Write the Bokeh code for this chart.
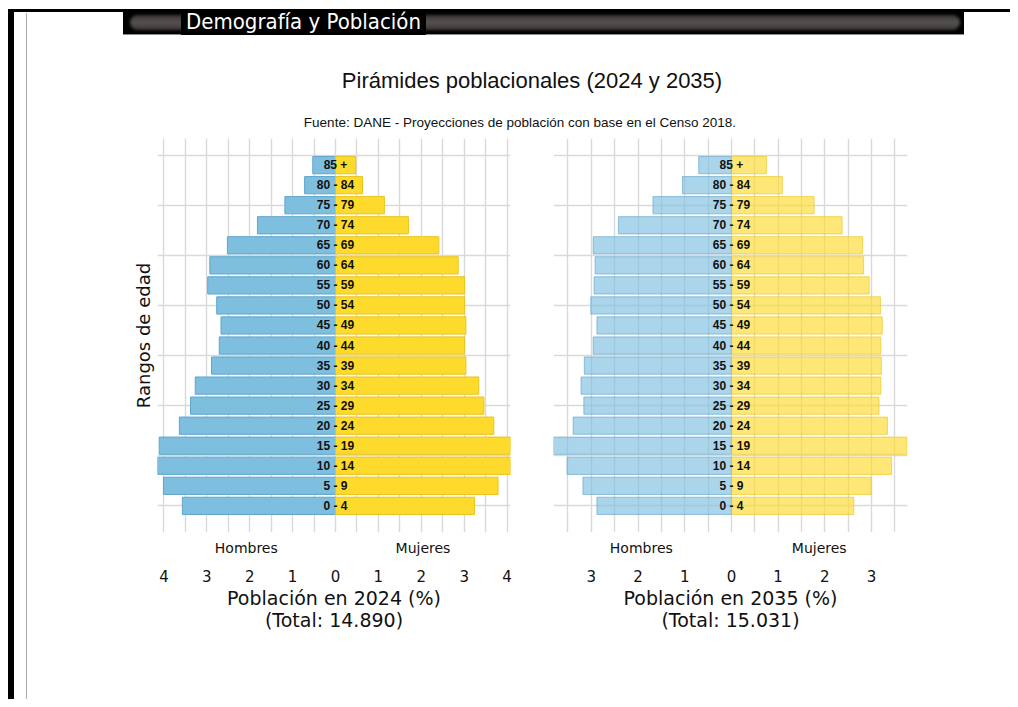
from bokeh.plotting import figure
from bokeh.models import (ColumnDataSource, FixedTicker, LinearAxis, Grid,
                          Range1d, Div)
from bokeh.layouts import row, column
from bokeh.core.properties import value
from bokeh.embed import file_html
from bokeh.resources import INLINE

# ---------------- data (percent of total population) ----------------
age_groups = ["0 - 4", "5 - 9", "10 - 14", "15 - 19", "20 - 24", "25 - 29",
              "30 - 34", "35 - 39", "40 - 44", "45 - 49", "50 - 54", "55 - 59",
              "60 - 64", "65 - 69", "70 - 74", "75 - 79", "80 - 84", "85 +"]
men_2024 = [3.57, 4.01, 4.17, 4.11, 3.64, 3.38, 3.27, 2.89, 2.71, 2.67, 2.77,
            2.98, 2.93, 2.52, 1.82, 1.18, 0.72, 0.53]
women_2024 = [3.24, 3.79, 4.12, 4.12, 3.69, 3.46, 3.34, 3.04, 3.01, 3.04, 3.01,
              3.01, 2.86, 2.41, 1.70, 1.14, 0.63, 0.47]
men_2035 = [2.88, 3.18, 3.52, 3.83, 3.39, 3.16, 3.22, 3.15, 2.96, 2.88, 3.01,
            2.94, 2.92, 2.96, 2.42, 1.68, 1.05, 0.70]
women_2035 = [2.62, 2.99, 3.43, 3.76, 3.34, 3.16, 3.20, 3.21, 3.20, 3.23, 3.19,
              2.95, 2.83, 2.81, 2.37, 1.77, 1.09, 0.75]

ticks_2024 = [-4, -3, -2, -1, 0, 1, 2, 3, 4]
ticks_2035 = [-3, -2, -1, 0, 1, 2, 3]
sex_labels = ["Hombres", "Mujeres"]
header_text = "Demografía y Población"
title_text = "Pirámides poblacionales (2024 y 2035)"
subtitle_text = "Fuente: DANE - Proyecciones de población con base en el Censo 2018."
y_title = "Rangos de edad"
x_title_2024 = "Población en 2024 (%)"
x_title_2035 = "Población en 2035 (%)"
total_2024 = "(Total: 14.890)"
total_2035 = "(Total: 15.031)"

BLUE = "#7ebede"
BLUE_EDGE = "#5fa6cc"
YELLOW = "#fdda2c"
YELLOW_EDGE = "#e9c41c"
GRID = "#d9d9d9"
AXIS_FONT = "DejaVu Sans"


def make_panel(men, women, x_start, x_end, ticks, sex_pos, x_title, total,
               alpha, width, mbl, mbr, with_y_title):
    y = list(range(len(age_groups)))
    src = ColumnDataSource(dict(
        y=y, label=age_groups,
        men_left=[-v for v in men], women_right=women,
    ))
    p = figure(width=width, height=520,
               x_range=Range1d(x_start, x_end), y_range=Range1d(-1.33, 18.33),
               x_axis_location=None, y_axis_location=None,
               toolbar_location=None, output_backend="svg",
               min_border_left=mbl, min_border_right=mbr,
               min_border_top=4, min_border_bottom=122,
               outline_line_color=None, background_fill_color="white",
               border_fill_color="white")
    p.grid.visible = False

    lo, hi = min(ticks), max(ticks)
    if lo == -3:
        lo, hi = -3.5, 3.5
    half_steps = [k / 2 for k in range(int(2 * lo), int(2 * hi) + 1)]
    p.add_layout(Grid(dimension=0, ticker=FixedTicker(ticks=half_steps),
                      grid_line_color=GRID, grid_line_width=1.4))
    p.add_layout(Grid(dimension=1,
                      ticker=FixedTicker(ticks=[0, 2.5, 5, 7.5, 10, 12.5, 15, 17.5]),
                      grid_line_color=GRID, grid_line_width=1.4))

    p.hbar(y="y", left="men_left", right=0, height=0.86, source=src,
           fill_color=BLUE, fill_alpha=alpha, line_color=BLUE_EDGE,
           line_alpha=alpha, line_width=1)
    p.hbar(y="y", left=0, right="women_right", height=0.86, source=src,
           fill_color=YELLOW, fill_alpha=alpha, line_color=YELLOW_EDGE,
           line_alpha=alpha, line_width=1)
    p.text(x=0, y="y", text="label", source=src, text_align="center",
           text_baseline="middle", text_font=value("Liberation Sans"),
           text_font_style="bold", text_font_size="12px", text_color="#111111")

    # Hombres / Mujeres axis
    ax1 = LinearAxis(ticker=FixedTicker(ticks=sex_pos),
                     major_label_overrides={sex_pos[0]: sex_labels[0],
                                            sex_pos[1]: sex_labels[1]},
                     axis_line_color=None, major_tick_line_color=None,
                     minor_tick_line_color=None, major_tick_out=0,
                     major_label_standoff=7,
                     major_label_text_font=AXIS_FONT,
                     major_label_text_font_size="14px",
                     major_label_text_color="#111111")
    p.add_layout(ax1, "below")
    # numeric axis with two-line title
    ax2 = LinearAxis(ticker=FixedTicker(ticks=ticks),
                     major_label_overrides={t: str(abs(t)) for t in ticks},
                     axis_line_color=None, major_tick_line_color=None,
                     minor_tick_line_color=None, major_tick_out=0,
                     major_label_standoff=11,
                     major_label_text_font=AXIS_FONT,
                     major_label_text_font_size="15px",
                     major_label_text_color="#111111",
                     axis_label=x_title + "\n" + total, axis_label_standoff=2,
                     axis_label_text_font=AXIS_FONT,
                     axis_label_text_font_size="19px",
                     axis_label_text_font_style="normal",
                     axis_label_text_line_height=1.0,
                     axis_label_text_color="#111111")
    p.add_layout(ax2, "below")

    if with_y_title:
        yax = LinearAxis(ticker=FixedTicker(ticks=[]), axis_label=y_title,
                         axis_line_color=None, major_tick_line_color=None,
                         minor_tick_line_color=None, major_tick_out=0,
                         major_label_text_font_size="1px",
                         axis_label_standoff=4,
                         axis_label_text_font=AXIS_FONT,
                         axis_label_text_font_size="18px",
                         axis_label_text_font_style="normal",
                         axis_label_text_color="#111111")
        p.add_layout(yax, "left")
    return p


left = make_panel(men_2024, women_2024, -4.15, 4.08, ticks_2024, [-2.08, 2.04],
                  x_title_2024, total_2024, 1.0, 503, 129, 21, True)
right = make_panel(men_2035, women_2035, -3.81, 3.77, ticks_2035, [-1.93, 1.88],
                   x_title_2035, total_2035, 0.65, 479, 22, 103, False)

border_html = (
    '<div style="position:relative;width:28px;height:699px;">'
    '<div style="position:absolute;left:8px;top:9px;width:20px;height:3px;background:#000;"></div>'
    '<div style="position:absolute;left:8px;top:10px;width:6px;height:689px;background:#000;"></div>'
    '<div style="position:absolute;left:26px;top:13px;width:1px;height:686px;background:#aaaaaa;"></div>'
    '</div>'
)
border_div = Div(text=border_html, width=28, height=699, margin=(0, 0, 0, 0))

header_html = (
    '<div style="position:relative;width:982px;height:134px;">'
    '<div style="position:absolute;left:0;top:9px;width:982px;height:3px;background:#000;"></div>'
    '<div style="position:absolute;left:95px;top:9px;width:841px;height:26px;background:#000;'
    'border-bottom:1px solid #8a8a8a;"></div>'
    '<div style="position:absolute;left:102px;top:15px;width:830px;height:15px;border-radius:8px;'
    'background:linear-gradient(#3a3535,#575252,#3a3535);filter:blur(1.5px);"></div>'
    '<div style="position:absolute;left:153px;top:9px;height:26px;line-height:26px;padding:0 5px;'
    'background:#000;color:#fff;font-family:\'DejaVu Sans Condensed\',\'DejaVu Sans\',sans-serif;'
    f'font-size:22px;white-space:nowrap;">{header_text}</div>'
    '<div style="position:absolute;left:0;top:68px;width:1008px;line-height:26px;text-align:center;'
    "font-family:'Liberation Sans',Arial,sans-serif;font-size:22px;color:#111;white-space:nowrap;\">"
    f'{title_text}</div>'
    '<div style="position:absolute;left:0;top:115px;width:984px;line-height:16px;text-align:center;'
    "font-family:'Liberation Sans',Arial,sans-serif;font-size:13.5px;color:#111;white-space:nowrap;\">"
    f'{subtitle_text}</div>'
    '</div>'
)
header_div = Div(text=header_html, width=982, height=134, margin=(0, 0, 0, 0))

left.margin = (0, 0, 0, 0)
right.margin = (0, 0, 0, 0)
charts = row(left, right, spacing=0)
content = column(header_div, charts, spacing=0)
page = row(border_div, content, spacing=0)

open("out.html", "w").write(file_html(page, INLINE))
